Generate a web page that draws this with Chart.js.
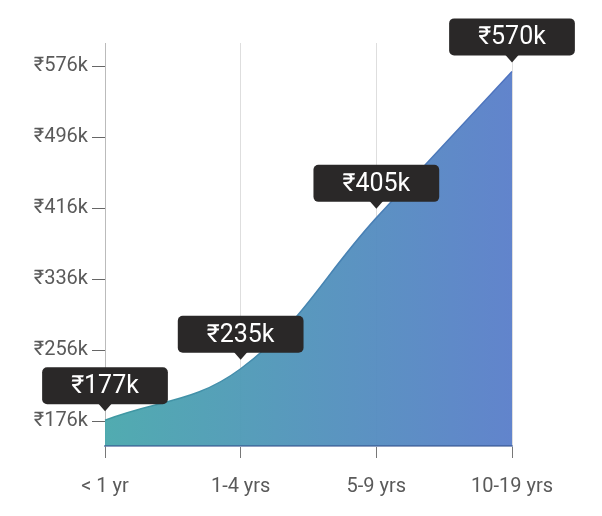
<!DOCTYPE html>
<html>
<head>
<meta charset="utf-8">
<script src="https://cdn.jsdelivr.net/npm/chart.js@4"></script>
<style>
  html, body { margin: 0; padding: 0; background: #fff; }
  #wrap { width: 602px; height: 516px; }
</style>
</head>
<body>
<div id="wrap"><canvas id="salary-chart"></canvas></div>
<script>
// 数据
const categories = ['< 1 yr', '1-4 yrs', '5-9 yrs', '10-19 yrs'];
const salaryK = [177, 235, 405, 570];
const yTicks = [176, 256, 336, 416, 496, 576];

const fmt = v => '\u20B9' + v + 'k';

// 每个点上方的深色标签
const calloutPlugin = {
  id: 'callouts',
  afterDraw(chart) {
    const ctx = chart.ctx;
    const meta = chart.getDatasetMeta(0);
    ctx.save();
    ctx.font = '25px Roboto, "Noto Sans", sans-serif';
    meta.data.forEach((pt, i) => {
      const text = fmt(salaryK[i]);
      const w = ctx.measureText(text).width + 58;
      const h = 37;
      const tipY = pt.y - 9;
      const bottom = tipY - 7;
      const left = pt.x - w / 2;
      const top = bottom - h;
      ctx.fillStyle = '#2a2828';
      ctx.beginPath();
      ctx.roundRect(left, top, w, h, 5);
      ctx.fill();
      ctx.beginPath();
      ctx.moveTo(pt.x - 7, bottom - 1);
      ctx.lineTo(pt.x + 7, bottom - 1);
      ctx.lineTo(pt.x, tipY);
      ctx.closePath();
      ctx.fill();
      ctx.fillStyle = '#fff';
      ctx.textAlign = 'center';
      ctx.textBaseline = 'middle';
      ctx.fillText(text, pt.x, top + h / 2 + 1);
    });
    ctx.restore();
  }
};

function makeGradient(chart, a, b) {
  const area = chart.chartArea;
  if (!area) return a;
  const g = chart.ctx.createLinearGradient(area.left, 0, area.right, 0);
  g.addColorStop(0, a);
  g.addColorStop(1, b);
  return g;
}

new Chart(document.getElementById('salary-chart'), {
  type: 'line',
  data: {
    labels: categories,
    datasets: [{
      data: salaryK,
      fill: 'start',
      backgroundColor: ctx => makeGradient(ctx.chart, 'rgba(74,168,173,0.96)', 'rgba(91,127,202,0.96)'),
      borderColor: ctx => makeGradient(ctx.chart, '#3f9aa2', '#4f72c0'),
      borderWidth: 1.5,
      pointRadius: 0,
      tension: 0.4
    }]
  },
  options: {
    responsive: true,
    maintainAspectRatio: false,
    animation: false,
    layout: { padding: { top: 43, right: 90, left: 0, bottom: 0 } },
    plugins: { legend: { display: false }, tooltip: { enabled: false } },
    scales: {
      x: {
        offset: false,
        grid: { color: '#dedede', tickColor: '#777', tickLength: 12, lineWidth: 1 },
        border: { color: 'rgba(50,80,140,0.55)', width: 2, z: 1 },
        ticks: { color: '#5a5a5a', padding: 17, font: { size: 20, family: 'Roboto' } },
        afterFit: s => { s.height = 70; }
      },
      y: {
        min: 148,
        max: 602,
        afterBuildTicks: s => { s.ticks = yTicks.map(v => ({ value: v })); },
        grid: { drawOnChartArea: false, tickColor: '#666', tickLength: 13 },
        border: { color: '#bbb' },
        ticks: { color: '#5a5a5a', padding: 4, font: { size: 20, family: 'Roboto' }, callback: v => fmt(v) },
        afterFit: s => { s.width = 105; }
      }
    }
  },
  plugins: [calloutPlugin]
});
</script>
</body>
</html>
